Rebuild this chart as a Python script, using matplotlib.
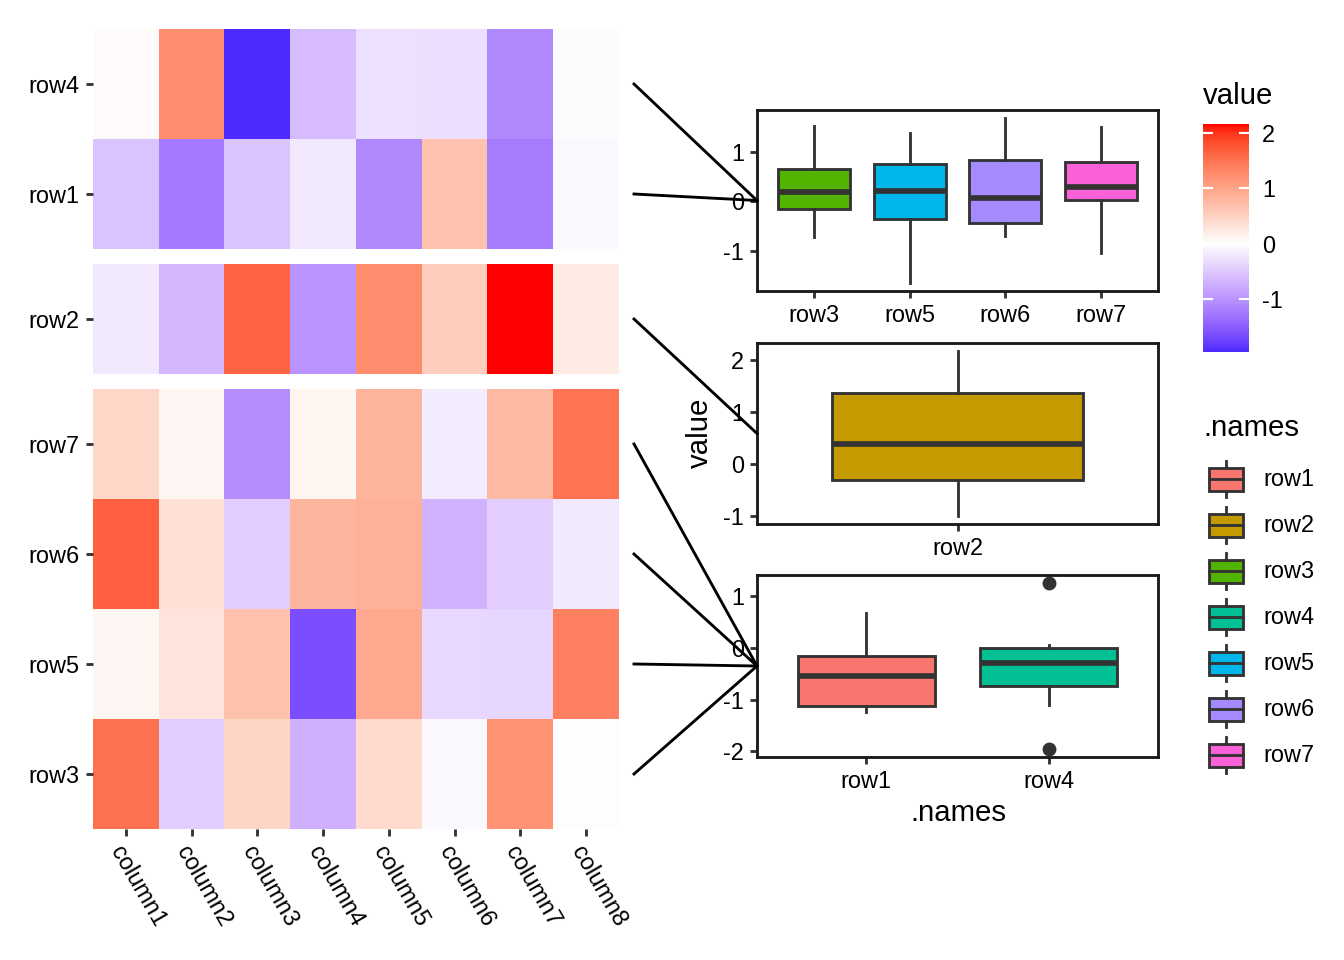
import numpy as np
import matplotlib
matplotlib.use('Agg')
import matplotlib.pyplot as plt
from matplotlib.colors import ListedColormap, Normalize
from matplotlib.lines import Line2D
from matplotlib.patches import Rectangle
from matplotlib.ticker import MultipleLocator

plt.rcParams['font.family'] = ['Liberation Sans', 'DejaVu Sans']

# ---------------- data ----------------
columns = ['column1', 'column2', 'column3', 'column4',
           'column5', 'column6', 'column7', 'column8']
row1 = [-0.55, -1.24, -0.55, -0.20, -1.10, 0.68, -1.22, -0.05]
row2 = [-0.20, -0.65, 1.65, -1.00, 1.25, 0.55, 2.16, 0.22]
row3 = [1.52, -0.45, 0.48, -0.72, 0.40, -0.05, 1.20, -0.01]
row4 = [0.05, 1.25, -1.95, -0.62, -0.28, -0.30, -1.10, -0.03]
row5 = [0.10, 0.30, 0.70, -1.65, 0.95, -0.35, -0.38, 1.38]
row6 = [1.68, 0.35, -0.45, 0.83, 0.87, -0.70, -0.45, -0.20]
row7 = [0.45, 0.10, -1.05, 0.12, 0.85, -0.18, 0.78, 1.50]
values = {'row1': row1, 'row2': row2, 'row3': row3, 'row4': row4,
          'row5': row5, 'row6': row6, 'row7': row7}
row_names = ['row1', 'row2', 'row3', 'row4', 'row5', 'row6', 'row7']

heat_groups = [['row4', 'row1'], ['row2'], ['row7', 'row6', 'row5', 'row3']]
box_groups = [['row3', 'row5', 'row6', 'row7'], ['row2'], ['row1', 'row4']]

hue = {'row1': '#F8766D', 'row2': '#C49A00', 'row3': '#53B400', 'row4': '#00C094',
       'row5': '#00B6EB', 'row6': '#A58AFF', 'row7': '#FB61D7'}

# ---------------- colour scale (Lab interpolation, like ggplot gradient2) ----
_M = np.array([[0.4124564, 0.3575761, 0.1804375],
               [0.2126729, 0.7151522, 0.0721750],
               [0.0193339, 0.1191920, 0.9503041]])
_WP = np.array([0.95047, 1.0, 1.08883])


def srgb_to_lab(rgb):
    rgb = np.asarray(rgb, float)
    lin = np.where(rgb <= 0.04045, rgb / 12.92, ((rgb + 0.055) / 1.055) ** 2.4)
    xyz = lin @ _M.T / _WP
    d = 6 / 29
    f = np.where(xyz > d ** 3, np.cbrt(xyz), xyz / (3 * d * d) + 4 / 29)
    L = 116 * f[..., 1] - 16
    a = 500 * (f[..., 0] - f[..., 1])
    b = 200 * (f[..., 1] - f[..., 2])
    return np.stack([L, a, b], -1)


def lab_to_srgb(lab):
    L, a, b = lab[..., 0], lab[..., 1], lab[..., 2]
    fy = (L + 16) / 116
    fx = fy + a / 500
    fz = fy - b / 200
    d = 6 / 29

    def finv(t):
        return np.where(t > d, t ** 3, 3 * d * d * (t - 4 / 29))
    xyz = np.stack([finv(fx), finv(fy), finv(fz)], -1) * _WP
    lin = np.clip(xyz @ np.linalg.inv(_M).T, 0, 1)
    rgb = np.where(lin <= 0.0031308, 12.92 * lin, 1.055 * lin ** (1 / 2.4) - 0.055)
    return np.clip(rgb, 0, 1)


lab_low = srgb_to_lab([0, 0, 1])
lab_mid = srgb_to_lab([1, 1, 1])
lab_high = srgb_to_lab([1, 0, 0])
tt = np.linspace(0, 1, 512)
labs = np.where((tt < 0.5)[:, None],
                lab_low + (lab_mid - lab_low) * (tt / 0.5)[:, None],
                lab_mid + (lab_high - lab_mid) * ((tt - 0.5) / 0.5)[:, None])
cmap = ListedColormap(lab_to_srgb(labs))

all_vals = np.concatenate([values[r] for r in row_names])
vmin_d, vmax_d = all_vals.min(), all_vals.max()
ext = max(abs(vmin_d), abs(vmax_d))
norm = Normalize(vmin=-ext, vmax=ext)

# ---------------- figure ----------------
W, H = 1344, 960
fig = plt.figure(figsize=(7, 5), dpi=192)


def add_ax(x0, y0, x1, y1, **kw):
    return fig.add_axes([x0 / W, 1 - y1 / H, (x1 - x0) / W, (y1 - y0) / H], **kw)


def fxy(x, y):
    return x / W, 1 - y / H


EDGE = '#333333'
LW = 1.07
TXT = 8.8
TITLE = 11

# heatmap panels
heat_boxes = [(93, 29, 619, 249), (93, 264, 619, 374), (93, 389, 619, 829)]
heat_axes = []
for gi, (grp, bx) in enumerate(zip(heat_groups, heat_boxes)):
    ax = add_ax(*bx)
    mat = np.array([values[r] for r in grp])
    ax.imshow(mat, cmap=cmap, norm=norm, aspect='auto', interpolation='nearest')
    for s in ax.spines.values():
        s.set_visible(False)
    ax.set_yticks(range(len(grp)))
    ax.set_yticklabels(grp)
    ax.tick_params(axis='y', length=2.75, width=LW, color=EDGE, labelsize=TXT,
                   labelcolor='black', pad=2.2)
    if gi == len(heat_groups) - 1:
        ax.set_xticks(range(len(columns)))
        ax.set_xticklabels(columns, rotation=-60, ha='left', va='top',
                           rotation_mode='anchor')
        ax.tick_params(axis='x', length=2.75, width=LW, color=EDGE, labelsize=TXT,
                       labelcolor='black', pad=2.2)
    else:
        ax.set_xticks([])
    heat_axes.append(ax)

# boxplot panels
box_boxes = [(757, 110, 1158, 291), (757, 343, 1158, 524), (757, 575, 1158, 757)]
box_axes = []
for grp, bx in zip(box_groups, box_boxes):
    ax = add_ax(*bx)
    data = [values[r] for r in grp]
    pos = np.arange(1, len(grp) + 1)
    bp = ax.boxplot(data, positions=pos, widths=0.75, patch_artist=True, whis=1.5,
                    showcaps=False,
                    boxprops=dict(edgecolor=EDGE, linewidth=LW),
                    medianprops=dict(color=EDGE, linewidth=2.13, solid_capstyle='butt'),
                    whiskerprops=dict(color=EDGE, linewidth=LW),
                    flierprops=dict(marker='o', markerfacecolor=EDGE,
                                    markeredgecolor=EDGE, markersize=4.2))
    for patch, r in zip(bp['boxes'], grp):
        patch.set_facecolor(hue[r])
    allv = np.concatenate(data)
    lo, hi = allv.min(), allv.max()
    pad = 0.05 * (hi - lo)
    ax.set_ylim(lo - pad, hi + pad)
    ax.set_xlim(0.4, len(grp) + 0.6)
    ax.set_xticks(pos)
    ax.set_xticklabels(grp)
    ax.yaxis.set_major_locator(MultipleLocator(1))
    ax.yaxis.set_major_formatter(matplotlib.ticker.FuncFormatter(
        lambda v, p: '%d' % round(v)))
    for s in ax.spines.values():
        s.set_color('#1a1a1a')
        s.set_linewidth(LW)
    ax.tick_params(length=2.75, width=LW, color=EDGE, labelsize=TXT,
                   labelcolor='black', pad=2.2)
    box_axes.append(ax)

# axis titles
fig.text(*fxy(700, 433), 'value', rotation=90, ha='center', va='center', fontsize=TITLE)
fig.text(*fxy(958, 813), '.names', ha='center', va='center', fontsize=TITLE)

# link lines
inv = fig.transFigure.inverted()
for grp, hax, bax in zip(heat_groups, heat_axes, box_axes):
    tgt = inv.transform(bax.transAxes.transform((0, 0.5)))
    for i, r in enumerate(grp):
        d = hax.transData.transform((len(columns) - 0.5, i))
        d = d + np.array([15 * fig.dpi / 192, 0])
        src = inv.transform(d)
        fig.add_artist(Line2D([src[0], tgt[0]], [src[1], tgt[1]],
                              transform=fig.transFigure, color='black',
                              linewidth=LW, zorder=20))

# colourbar legend
fig.text(*fxy(1203, 96), 'value', ha='left', va='center', fontsize=TITLE)
cax = add_ax(1203, 124, 1249, 352)
grad = np.linspace(vmax_d, vmin_d, 300)[:, None]
cax.imshow(grad, cmap=cmap, norm=norm, aspect='auto',
           extent=(0, 1, vmin_d, vmax_d), interpolation='bilinear')
cax.set_xlim(0, 1)
cax.set_ylim(vmin_d, vmax_d)
ticks = [t for t in [-1, 0, 1, 2] if vmin_d <= t <= vmax_d]
for t in ticks:
    cax.plot([0, 0.2], [t, t], color='white', linewidth=0.8)
    cax.plot([0.8, 1], [t, t], color='white', linewidth=0.8)
cax.set_xticks([])
cax.set_yticks(ticks)
cax.set_yticklabels([str(t) for t in ticks])
cax.tick_params(axis='y', left=False, right=False, labelleft=False, labelright=True,
                length=0, pad=4.9, labelsize=TXT)
for s in cax.spines.values():
    s.set_visible(False)

# .names legend
fig.text(*fxy(1203, 428), '.names', ha='left', va='center', fontsize=TITLE)
key = 46
for k, r in enumerate(row_names):
    yc = 479 + key * k
    xc = 1226
    bw, bh = 0.75 * key, 0.5 * key
    x0, y0 = fxy(xc - bw / 2, yc + bh / 2)
    fig.add_artist(Rectangle((x0, y0), bw / W, bh / H, transform=fig.transFigure,
                             facecolor=hue[r], edgecolor=EDGE, linewidth=LW))
    fig.add_artist(Line2D([fxy(xc - bw / 2, 0)[0], fxy(xc + bw / 2, 0)[0]],
                          [fxy(0, yc)[1]] * 2, transform=fig.transFigure,
                          color=EDGE, linewidth=LW))
    for ya, yb in [(yc - 0.4 * key, yc - bh / 2), (yc + bh / 2, yc + 0.4 * key)]:
        fig.add_artist(Line2D([xc / W] * 2, [fxy(0, ya)[1], fxy(0, yb)[1]],
                              transform=fig.transFigure, color=EDGE, linewidth=LW))
    fig.text(*fxy(1263, yc), r, ha='left', va='center', fontsize=TXT)

fig.savefig('out.png', dpi=192, facecolor='white')
